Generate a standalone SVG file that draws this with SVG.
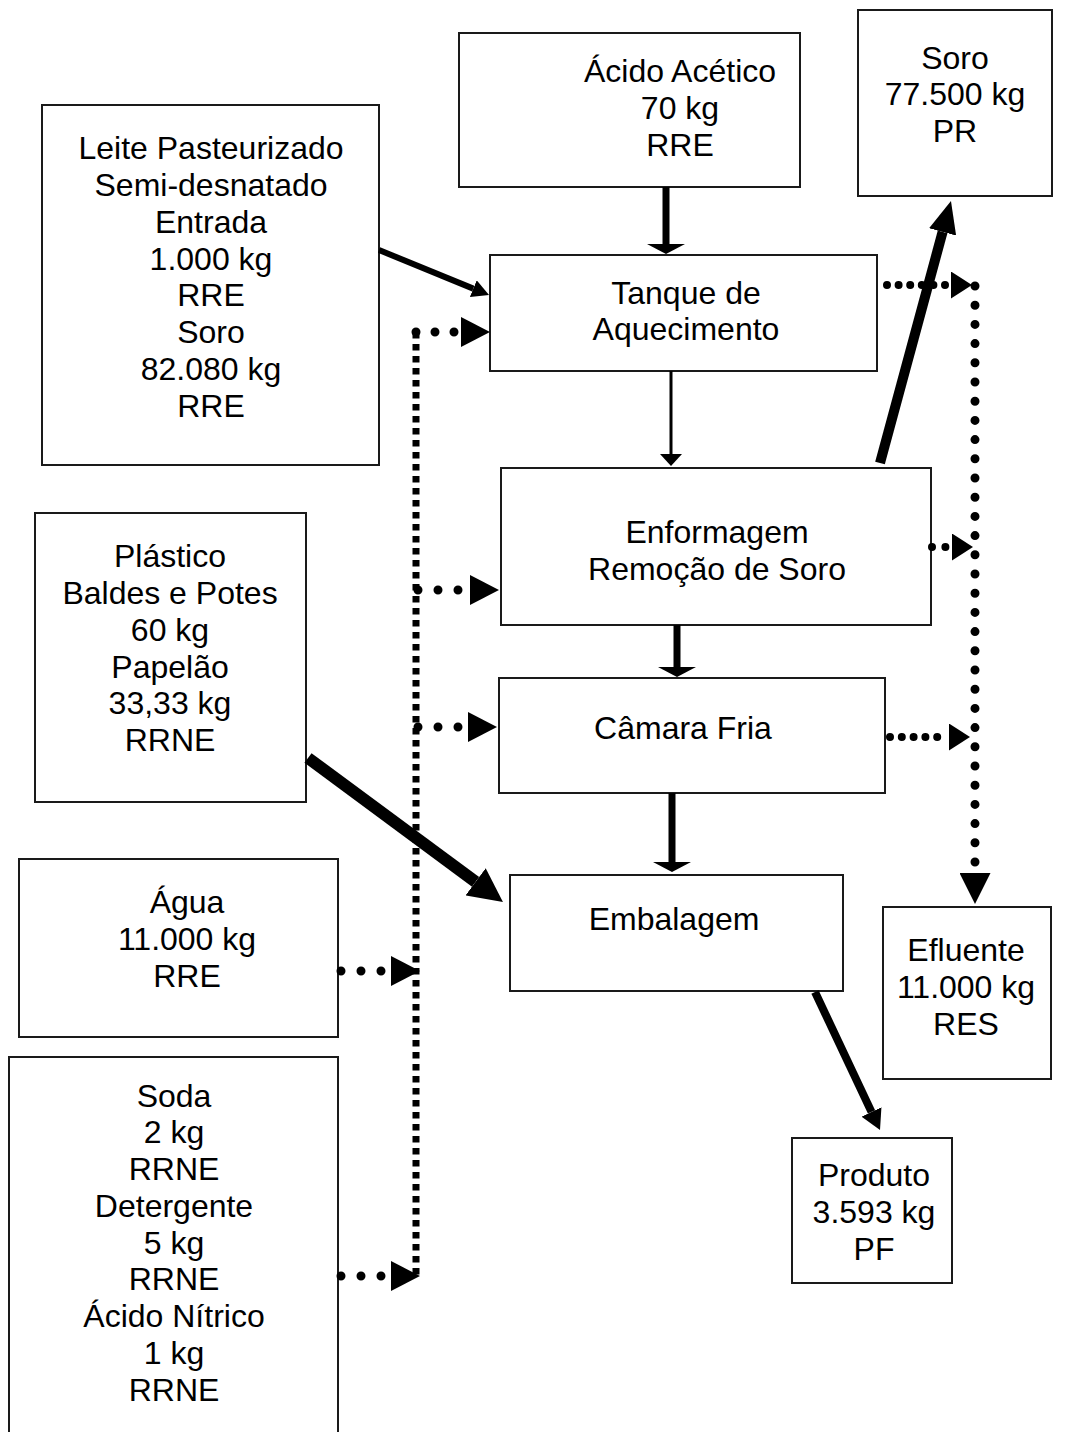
<svg xmlns="http://www.w3.org/2000/svg" width="1066" height="1432" viewBox="0 0 1066 1432">
<style>
.box{fill:#fff;stroke:#1a1a1a;stroke-width:2}
.t{font-family:"Liberation Sans",Arial,sans-serif;font-size:32px;fill:#000;text-anchor:middle}
.sol{stroke:#000;fill:none;stroke-linecap:butt}
.dot{stroke:#000;fill:none;stroke-linecap:round}
.sq{stroke:#000;fill:none;stroke-width:7;stroke-dasharray:6.5 5.5}
</style>
<defs>
<marker id="mSmall" markerUnits="userSpaceOnUse" viewBox="0 0 17 18" markerWidth="17" markerHeight="18" refX="0" refY="9" orient="auto"><path d="M0,0 L17,9 L0,18 z"/></marker>
<marker id="mThin" markerUnits="userSpaceOnUse" viewBox="0 0 12 22" markerWidth="12" markerHeight="22" refX="0" refY="11" orient="auto"><path d="M0,0 L12,11 L0,22 z"/></marker>
<marker id="mFlat" markerUnits="userSpaceOnUse" viewBox="0 0 10 38" markerWidth="10" markerHeight="38" refX="0" refY="19" orient="auto"><path d="M0,0 L10,19 L0,38 z"/></marker>
<marker id="mBig" markerUnits="userSpaceOnUse" viewBox="0 0 34 34" markerWidth="34" markerHeight="34" refX="0" refY="17" orient="auto"><path d="M0,0 L34,17 L0,34 z"/></marker>
<marker id="mSoro" markerUnits="userSpaceOnUse" viewBox="0 0 32 28" markerWidth="32" markerHeight="28" refX="0" refY="14" orient="auto"><path d="M0,0 L32,14 L0,28 z"/></marker>
<marker id="mProd" markerUnits="userSpaceOnUse" viewBox="0 0 20 22" markerWidth="20" markerHeight="22" refX="0" refY="11" orient="auto"><path d="M0,0 L20,11 L0,22 z"/></marker>
<marker id="mDot" markerUnits="userSpaceOnUse" viewBox="0 0 29 30" markerWidth="29" markerHeight="30" refX="0" refY="15" orient="auto"><path d="M0,0 L29,15 L0,30 z"/></marker>
<marker id="mDotR" markerUnits="userSpaceOnUse" viewBox="0 0 21 27" markerWidth="21" markerHeight="27" refX="0" refY="13.5" orient="auto"><path d="M0,0 L21,13.5 L0,27 z"/></marker>
<marker id="mDotV" markerUnits="userSpaceOnUse" viewBox="0 0 31 31" markerWidth="31" markerHeight="31" refX="0" refY="15.5" orient="auto"><path d="M0,0 L31,15.5 L0,31 z"/></marker>
</defs>

<g id="n-leite"><rect class="box" x="42" y="105" width="337" height="360"/>
<text class="t" x="211" y="159">Leite Pasteurizado</text>
<text class="t" x="211" y="196">Semi-desnatado</text>
<text class="t" x="211" y="233">Entrada</text>
<text class="t" x="211" y="270">1.000 kg</text>
<text class="t" x="211" y="306">RRE</text>
<text class="t" x="211" y="343">Soro</text>
<text class="t" x="211" y="380">82.080 kg</text>
<text class="t" x="211" y="417">RRE</text></g>

<g id="n-acido"><rect class="box" x="459" y="33" width="341" height="154"/>
<text class="t" x="680" y="82">Ácido Acético</text>
<text class="t" x="680" y="119">70 kg</text>
<text class="t" x="680" y="156">RRE</text></g>

<g id="n-soro"><rect class="box" x="858" y="10" width="194" height="186"/>
<text class="t" x="955" y="69">Soro</text>
<text class="t" x="955" y="105">77.500 kg</text>
<text class="t" x="955" y="142">PR</text></g>

<g id="n-tanque"><rect class="box" x="490" y="255" width="387" height="116"/>
<text class="t" x="686" y="304">Tanque de</text>
<text class="t" x="686" y="340">Aquecimento</text></g>

<g id="n-enformagem"><rect class="box" x="501" y="468" width="430" height="157"/>
<text class="t" x="717" y="543">Enformagem</text>
<text class="t" x="717" y="580">Remoção de Soro</text></g>

<g id="n-plastico"><rect class="box" x="35" y="513" width="271" height="289"/>
<text class="t" x="170" y="567">Plástico</text>
<text class="t" x="170" y="604">Baldes e Potes</text>
<text class="t" x="170" y="641">60 kg</text>
<text class="t" x="170" y="678">Papelão</text>
<text class="t" x="170" y="714">33,33 kg</text>
<text class="t" x="170" y="751">RRNE</text></g>

<g id="n-camara"><rect class="box" x="499" y="678" width="386" height="115"/>
<text class="t" x="683" y="739">Câmara Fria</text></g>

<g id="n-embalagem"><rect class="box" x="510" y="875" width="333" height="116"/>
<text class="t" x="674" y="930">Embalagem</text></g>

<g id="n-agua"><rect class="box" x="19" y="859" width="319" height="178"/>
<text class="t" x="187" y="913">Água</text>
<text class="t" x="187" y="950">11.000 kg</text>
<text class="t" x="187" y="987">RRE</text></g>

<g id="n-soda"><rect class="box" x="9" y="1057" width="329" height="400"/>
<text class="t" x="174" y="1107">Soda</text>
<text class="t" x="174" y="1143">2 kg</text>
<text class="t" x="174" y="1180">RRNE</text>
<text class="t" x="174" y="1217">Detergente</text>
<text class="t" x="174" y="1254">5 kg</text>
<text class="t" x="174" y="1290">RRNE</text>
<text class="t" x="174" y="1327">Ácido Nítrico</text>
<text class="t" x="174" y="1364">1 kg</text>
<text class="t" x="174" y="1401">RRNE</text></g>

<g id="n-efluente"><rect class="box" x="883" y="907" width="168" height="172"/>
<text class="t" x="966" y="961">Efluente</text>
<text class="t" x="966" y="998">11.000 kg</text>
<text class="t" x="966" y="1035">RES</text></g>

<g id="n-produto"><rect class="box" x="792" y="1138" width="160" height="145"/>
<text class="t" x="874" y="1186">Produto</text>
<text class="t" x="874" y="1223">3.593 kg</text>
<text class="t" x="874" y="1260">PF</text></g>

<g id="connectors">
<line class="sol" x1="379" y1="250" x2="473.3" y2="288.6" stroke-width="6" marker-end="url(#mSmall)"/>
<line class="sol" x1="666" y1="187" x2="666" y2="244" stroke-width="7" marker-end="url(#mFlat)"/>
<line class="sol" x1="671" y1="371" x2="671" y2="454" stroke-width="3" marker-end="url(#mThin)"/>
<line class="sol" x1="677" y1="625" x2="677" y2="667" stroke-width="7" marker-end="url(#mFlat)"/>
<line class="sol" x1="672" y1="793" x2="672" y2="862" stroke-width="7" marker-end="url(#mFlat)"/>
<line class="sol" x1="308" y1="758" x2="475.6" y2="881.8" stroke-width="12" marker-end="url(#mBig)"/>
<line class="sol" x1="880" y1="463" x2="942.6" y2="231.9" stroke-width="10" marker-end="url(#mSoro)"/>
<line class="sol" x1="815" y1="992" x2="871.5" y2="1111.9" stroke-width="8" marker-end="url(#mProd)"/>

<line class="sq" x1="416" y1="332" x2="416" y2="1278"/>
<line class="dot" x1="416" y1="332" x2="461" y2="332" stroke-width="9" stroke-dasharray="0 19" marker-end="url(#mDot)"/>
<line class="dot" x1="418" y1="590" x2="470" y2="590" stroke-width="9" stroke-dasharray="0 20" marker-end="url(#mDot)"/>
<line class="dot" x1="418" y1="727" x2="468" y2="727" stroke-width="9" stroke-dasharray="0 20" marker-end="url(#mDot)"/>
<line class="dot" x1="341" y1="971" x2="391" y2="971" stroke-width="9" stroke-dasharray="0 20" marker-end="url(#mDot)"/>
<line class="dot" x1="341" y1="1276" x2="391" y2="1276" stroke-width="9" stroke-dasharray="0 20" marker-end="url(#mDot)"/>

<line class="dot" x1="887" y1="285" x2="951" y2="285" stroke-width="8" stroke-dasharray="0 11.6" marker-end="url(#mDotR)"/>
<line class="dot" x1="932" y1="547" x2="952" y2="547" stroke-width="8" stroke-dasharray="0 13.4" marker-end="url(#mDotR)"/>
<line class="dot" x1="890" y1="737" x2="949" y2="737" stroke-width="8" stroke-dasharray="0 11.8" marker-end="url(#mDotR)"/>
<line class="dot" x1="975" y1="286" x2="975" y2="873" stroke-width="9" stroke-dasharray="0 19.2" marker-end="url(#mDotV)"/>
</g>
</svg>
